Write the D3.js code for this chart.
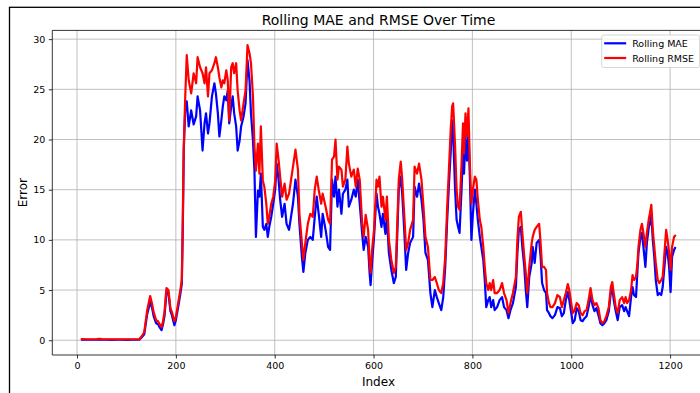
<!DOCTYPE html>
<html>
<head>
<meta charset="utf-8">
<script src="https://cdn.jsdelivr.net/npm/d3@7"></script>
<style>
  html, body { margin: 0; padding: 0; background: #fff; }
  svg { display: block; font-family: "DejaVu Sans", sans-serif; }
</style>
</head>
<body>
<div id="chart"></div>
<script>
// rolling window index (x)
const stepIndex = [
  10,20,30,40,45,50,60,70,80,90,100,110,120,126,131,136,142,148,152,155,160,164,167,171,174,177,181,185,189,192,197,200,205,209,212,214,216,219,
  222,226,231,236,241,244,249,254,258,261,265,268,273,278,281,285,288,292,295,298,302,305,308,312,315,318,322,325,329,332,337,341,345,349,352,356,359,362,366,369,372,376,379,383,386,389,393,397,401,404,408,411,415,420,424,429,
  437,442,447,450,455,458,462,467,472,477,481,485,489,494,497,503,508,512,516,520,523,527,530,535,538,543,547,550,555,560,564,568,572,577,580,584,589,592,594,597,601,606,609,612,616,619,624,627,631,636,641,645,648,651,655,658,662,666,670,674,680,
  683,688,692,697,701,705,710,715,719,724,728,732,737,741,745,749,753,756,759,761,765,768,771,774,778,781,783,786,789,792,795,798,801,805,808,811,815,818,822,825,828,832,835,838,842,845,850,855,860,864,869,873,877,882,888,891,894,898,901,905,908,911,915,
  920,922,926,930,935,938,941,945,949,951,955,958,962,967,972,977,981,985,989,993,996,1000,1003,1007,1011,1015,1019,1023,1027,1031,
  1035,1039,1043,1047,1051,1055,1059,1063,1067,1071,1076,1080,1083,1086,1090,1094,1098,1103,1107,1110,1113,1117,1121,1124,1127,1131,1134,1136,1140,1143,
  1146,1150,1153,1157,1159,1162,1165,1168,1171,1175,1178,1182,1185,1188,1192,1195,1198,1201,1204,1208,1210
];

const rollingMae = [
  0.06,0.05,0.05,0.06,0.08,0.06,0.05,0.04,0.05,0.05,0.04,0.05,0.05,0.05,0.30,0.60,2.6,3.8,3.2,2.4,1.7,1.6,1.3,1.0,1.6,2.4,4.8,4.7,2.9,2.5,1.5,2.0,3.4,4.6,5.6,11.0,19.0,23.0,
  23.8,21.3,22.9,21.5,22.3,24.3,22.9,18.9,21.6,22.6,20.6,21.6,24.3,25.6,24.6,22.6,20.3,21.9,23.3,24.3,23.9,24.9,21.6,23.3,24.3,22.6,21.3,18.9,19.9,21.3,22.3,23.6,27.9,25.9,22.6,19.9,16.9,10.3,14.9,14.3,16.6,11.3,11.0,11.6,10.3,11.3,12.3,13.6,15.0,17.6,15.9,14.0,12.3,13.6,11.6,11.0,
  13.6,16.0,14.3,11.6,8.3,6.8,8.7,10.0,10.3,10.0,12.3,14.3,12.6,10.3,12.6,11.0,9.3,9.0,16.0,14.3,16.3,13.3,15.0,12.6,14.6,15.0,16.0,13.3,14.0,15.0,14.3,16.0,13.6,10.6,9.0,10.3,9.3,6.7,5.5,7.7,10.3,14.6,13.3,12.6,11.3,12.6,10.6,12.3,8.7,7.0,5.7,6.3,10.6,15.0,16.3,14.6,11.0,7.0,8.7,9.7,10.3,
  15.3,14.3,15.6,14.0,12.0,8.7,8.0,4.7,3.3,5.0,4.3,3.7,3.0,4.3,7.3,12.0,16.0,18.6,21.9,20.6,15.0,12.0,11.3,10.7,15.0,18.9,16.6,20.3,17.9,20.9,16.0,10.0,12.6,15.0,13.6,12.0,10.3,9.3,8.0,6.0,3.3,4.0,4.3,3.3,4.0,3.0,3.3,4.0,4.3,3.3,3.0,2.2,3.0,3.7,5.3,8.7,11.0,11.3,9.3,7.3,5.0,3.3,6.3,
  7.7,9.3,7.7,9.7,10.0,8.3,5.7,5.0,4.7,3.0,2.7,2.4,2.2,2.5,3.3,3.2,2.4,2.7,4.0,4.8,4.0,2.7,1.7,2.0,3.2,2.9,2.0,1.9,2.2,2.4,
  3.3,4.5,3.5,2.9,3.2,2.5,1.7,1.5,1.7,2.0,2.9,4.7,5.3,4.0,2.9,2.0,3.3,3.5,2.9,3.3,2.9,2.4,4.3,5.3,4.5,4.3,7.0,8.7,10.3,10.7,
  9.3,7.3,9.7,11.3,11.6,12.6,10.0,8.3,6.0,4.5,4.7,4.5,5.3,7.0,9.3,8.7,7.3,4.8,8.3,9.0,9.2
];

const rollingRmse = [
  0.12,0.10,0.10,0.12,0.15,0.12,0.10,0.08,0.10,0.10,0.08,0.10,0.10,0.10,0.40,0.80,3.0,4.4,3.6,2.8,2.0,1.9,1.6,1.3,1.9,2.8,5.2,5.0,3.2,2.8,1.9,2.3,3.8,5.0,6.0,12.0,19.3,24.3,
  28.4,25.9,24.6,26.6,25.6,28.2,27.2,26.6,25.6,27.2,24.3,26.6,26.9,27.6,28.2,27.2,26.2,25.2,25.9,25.6,26.9,25.9,21.9,27.2,27.6,26.6,27.6,24.9,22.9,21.9,23.6,24.9,29.4,28.6,27.6,24.3,19.3,16.9,19.6,16.6,21.3,15.9,15.3,13.6,11.6,12.3,13.6,14.3,15.9,19.6,17.9,16.3,14.3,15.6,14.0,14.6,
  17.3,19.0,17.0,12.6,9.7,8.0,9.7,11.6,12.6,12.3,15.0,16.3,15.0,13.6,14.6,13.3,12.0,11.6,18.0,18.3,20.0,16.0,17.3,17.0,15.3,16.0,19.3,17.6,16.3,17.0,15.3,17.1,16.0,11.6,10.3,12.5,11.0,7.7,6.7,9.0,11.0,16.0,15.3,16.3,13.3,14.3,12.0,14.3,10.0,8.0,6.7,7.3,11.6,16.0,17.8,16.0,12.6,9.0,9.7,11.0,12.0,
  17.3,16.6,17.6,16.0,13.3,10.3,9.3,6.0,6.0,6.3,5.7,5.0,4.7,5.7,8.3,13.3,17.6,20.9,23.3,23.6,19.3,15.0,13.3,13.0,17.6,21.6,18.6,22.6,20.3,23.1,17.3,13.6,15.0,16.3,16.0,14.0,12.0,11.3,9.3,7.3,5.7,5.0,5.7,5.0,6.0,4.7,4.7,5.0,5.7,4.7,4.0,2.7,3.7,4.7,6.3,10.0,12.3,12.8,10.7,8.3,6.7,4.7,7.3,
  9.7,10.3,11.0,11.3,11.6,9.7,7.3,7.3,7.0,4.7,3.7,3.3,3.3,3.7,4.5,4.3,3.3,4.0,4.7,5.6,5.0,3.7,2.7,3.0,3.7,3.5,2.7,2.5,2.9,3.0,
  4.0,5.2,4.0,3.5,3.7,3.2,2.0,1.7,1.9,2.4,3.3,5.3,5.8,4.7,3.3,2.7,4.0,4.3,3.7,4.3,3.7,4.0,5.0,6.5,6.0,6.3,7.7,9.3,11.0,11.6,
  10.7,9.3,10.7,12.1,12.6,13.5,11.0,9.3,7.7,6.0,5.7,6.0,6.3,8.3,11.0,10.0,8.7,7.0,9.3,10.3,10.4
];

const xTicks = [0, 200, 400, 600, 800, 1000, 1200];
const yTicks = [0, 5, 10, 15, 20, 25, 30];
const seriesNames = ['Rolling MAE', 'Rolling RMSE'];
const seriesColors = ['#0000ff', '#ff0000'];

const width = 700, height = 393;
const margin = {top: 30.4, right: -4.7, bottom: 38, left: 52.3};
const innerW = width - margin.left - margin.right;
const innerH = height - margin.top - margin.bottom;

const svg = d3.select('#chart').append('svg')
  .attr('width', width)
  .attr('height', height);

// figure frame (cropped on right/bottom)
svg.append('rect')
  .attr('x', 9.5).attr('y', 7.3)
  .attr('width', 900).attr('height', 600)
  .attr('fill', 'none').attr('stroke', '#000').attr('stroke-width', 1.3);

const x = d3.scaleLinear().domain([-50, 1270]).range([0, innerW]);
const y = d3.scaleLinear().domain([-1.47, 30.87]).range([innerH, 0]);

const g = svg.append('g').attr('transform', `translate(${margin.left},${margin.top})`);

// grid
g.append('g').selectAll('line').data(xTicks).join('line')
  .attr('x1', d => x(d)).attr('x2', d => x(d))
  .attr('y1', 0).attr('y2', innerH)
  .attr('stroke', '#b0b0b0').attr('stroke-width', 0.8);
g.append('g').selectAll('line').data(yTicks).join('line')
  .attr('x1', 0).attr('x2', innerW)
  .attr('y1', d => y(d)).attr('y2', d => y(d))
  .attr('stroke', '#b0b0b0').attr('stroke-width', 0.8);

// lines
const series = [rollingMae, rollingRmse];
const line = d3.line().x((d, i) => x(stepIndex[i])).y(d => y(d));
series.forEach((vals, k) => {
  g.append('path')
    .datum(vals)
    .attr('d', line)
    .attr('fill', 'none')
    .attr('stroke', seriesColors[k])
    .attr('stroke-width', 2.2)
    .attr('stroke-linejoin', 'round')
    .attr('stroke-linecap', 'square');
});

// axes
const xAxis = g.append('g')
  .attr('transform', `translate(0,${innerH})`)
  .call(d3.axisBottom(x).tickValues(xTicks).tickSize(3.5).tickPadding(3.5).tickFormat(d3.format('d')));
const yAxis = g.append('g')
  .call(d3.axisLeft(y).tickValues(yTicks).tickSize(3.5).tickPadding(3.5).tickFormat(d3.format('d')));

[xAxis, yAxis].forEach(a => {
  a.select('.domain').remove();
  a.selectAll('.tick line').attr('stroke', '#000').attr('stroke-width', 0.8);
  a.selectAll('.tick text').attr('fill', '#000').attr('font-size', 9.5)
    .attr('font-family', '"DejaVu Sans", sans-serif');
});

// spines
g.append('line').attr('x1', 0).attr('x2', 0).attr('y1', 0).attr('y2', innerH)
  .attr('stroke', '#000').attr('stroke-width', 0.8);
g.append('line').attr('x1', 0).attr('x2', innerW).attr('y1', innerH).attr('y2', innerH)
  .attr('stroke', '#000').attr('stroke-width', 0.8);
g.append('line').attr('x1', 0).attr('x2', innerW).attr('y1', 0).attr('y2', 0)
  .attr('stroke', '#000').attr('stroke-width', 0.8);

// title and axis labels
svg.append('text')
  .attr('x', margin.left + innerW / 2).attr('y', 24.5)
  .attr('text-anchor', 'middle').attr('font-size', 14)
  .text('Rolling MAE and RMSE Over Time');

svg.append('text')
  .attr('x', margin.left + innerW / 2).attr('y', 386)
  .attr('text-anchor', 'middle').attr('font-size', 12)
  .text('Index');

svg.append('text')
  .attr('transform', `translate(27,${margin.top + innerH / 2}) rotate(-90)`)
  .attr('text-anchor', 'middle').attr('font-size', 12)
  .text('Error');

// legend
const legend = svg.append('g').attr('transform', 'translate(601.7,35)');
legend.append('rect')
  .attr('width', 98).attr('height', 32.5).attr('rx', 2)
  .attr('fill', '#fff').attr('fill-opacity', 0.8)
  .attr('stroke', '#cccccc').attr('stroke-width', 0.8);
seriesNames.forEach((name, k) => {
  const ly = 8.3 + k * 14.7;
  legend.append('line')
    .attr('x1', 2.5).attr('x2', 24.5).attr('y1', ly).attr('y2', ly)
    .attr('stroke', seriesColors[k]).attr('stroke-width', 2.2);
  legend.append('text')
    .attr('x', 30.5).attr('y', ly + 3.5)
    .attr('font-size', 9.5)
    .text(name);
});
</script>
</body>
</html>
